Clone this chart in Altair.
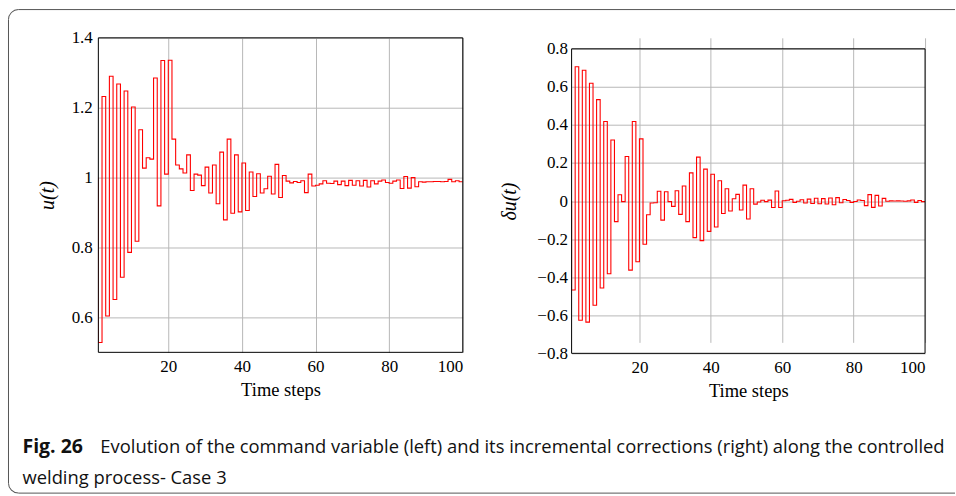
import math
import altair as alt
import pandas as pd

# ---------------- data ----------------
time_steps = list(range(1, 101))

# command variable u(t): initial value followed by the value held on each step 1..99
u_values = [
    1.000,
    0.528, 1.232, 0.604, 1.290, 0.651, 1.268, 0.715, 1.248, 0.786, 1.202,
    0.818, 1.137, 1.027, 1.057, 1.053, 1.285, 0.919, 1.335, 1.010, 1.336,
    1.110, 1.036, 1.025, 1.013, 1.065, 0.963, 1.010, 1.007, 0.977, 1.030,
    0.956, 1.036, 0.925, 1.073, 0.879, 1.110, 0.898, 1.065, 0.902, 1.042,
    0.906, 1.016, 0.946, 1.011, 0.956, 0.968, 1.004, 0.953, 1.038, 0.943,
    1.006, 0.990, 0.985, 0.989, 0.986, 0.991, 0.957, 1.010, 0.976, 0.978,
    0.982, 0.991, 0.984, 0.983, 0.990, 0.980, 0.990, 0.977, 0.992, 0.978,
    0.991, 0.976, 0.992, 0.973, 0.991, 0.982, 0.990, 0.993, 0.986, 0.984,
    0.990, 0.993, 0.969, 1.003, 0.970, 1.000, 0.974, 0.988, 0.987, 0.988,
    0.988, 0.989, 0.989, 0.988, 0.989, 0.995, 0.988, 0.991, 0.988,
]

# incremental corrections delta u(t)
du_values = [
    0.000,
    -0.467, 0.706, -0.626, 0.687, -0.636, 0.619, -0.547, 0.533, -0.457, 0.418,
    -0.382, 0.321, -0.108, 0.033, -0.003, 0.234, -0.363, 0.418, -0.319, 0.327,
    -0.227, -0.072, -0.010, -0.009, 0.052, -0.100, 0.049, -0.003, -0.028, 0.054,
    -0.070, 0.079, -0.108, 0.148, -0.192, 0.231, -0.208, 0.168, -0.159, 0.141,
    -0.136, 0.107, -0.065, 0.065, -0.052, 0.012, 0.035, -0.047, 0.084, -0.094,
    0.065, -0.016, -0.005, 0.004, -0.003, 0.005, -0.034, 0.053, -0.034, 0.002,
    0.004, 0.009, -0.007, -0.001, 0.007, -0.010, 0.010, -0.013, 0.015, -0.014,
    0.013, -0.015, 0.016, -0.019, 0.018, -0.009, 0.008, 0.003, -0.007, -0.002,
    0.006, 0.003, -0.024, 0.034, -0.033, 0.030, -0.026, 0.014, -0.001, 0.001,
    0.000, 0.001, 0.000, -0.001, 0.001, 0.006, -0.007, 0.003, -0.003,
]

x_ticks = [20, 40, 60, 80, 100]
u_ticks = [0.6, 0.8, 1.0, 1.2, 1.4]
du_ticks = [-0.8, -0.6, -0.4, -0.2, 0.0, 0.2, 0.4, 0.6, 0.8]
x_domain = [1, 100]
u_domain = [0.5, 1.4]
du_domain = [-0.8, 0.8]

x_title = "Time steps"
u_title = "u(t)"
du_title = "δu(t)"
caption_label = "Fig. 26"
caption_line1 = ("Evolution of the command variable (left) and its incremental "
                 "corrections (right) along the controlled")
caption_line2 = "welding process- Case 3"

df_u = pd.DataFrame({"t": time_steps, "u": u_values})
df_du = pd.DataFrame({"t": time_steps, "du": du_values})

# ---------------- style ----------------
SERIF = "Liberation Serif"
SANS = "Open Sans"
RED = "#ff0000"
GRID = "#b8b8b8"
FRAME = "#555555"

W1, H1 = 365, 315
W2, H2, TOP2 = 354, 316, 11

one = alt.Data(values=[{}])


def x_axis():
    return alt.Axis(values=x_ticks, title=x_title, grid=True, labelOverlap=False,
                    labelPadding=6, titleFontSize=18.5, titlePadding=6)


def y_axis(values, title, title_pad, label_pad):
    return alt.Axis(values=values, title=title, format=".1~f", grid=True,
                    labelOverlap=False, labelPadding=label_pad,
                    titleFontSize=20, titleFontStyle="italic", titlePadding=title_pad)


xs = alt.Scale(domain=x_domain, nice=False, zero=False)

# ---------------- left panel ----------------
left_line = alt.Chart(df_u).mark_line(
    interpolate="step-before", color=RED, strokeWidth=1.1, clip=True
).encode(
    x=alt.X("t:Q", scale=xs, axis=x_axis()),
    y=alt.Y("u:Q", scale=alt.Scale(domain=u_domain, nice=False, zero=False),
            axis=y_axis(u_ticks, u_title, 14, 6)),
)
left_box = alt.Chart(one).mark_rect(fillOpacity=0, stroke="black", strokeWidth=1).encode(
    x=alt.value(0), x2=alt.value(W1), y=alt.value(0), y2=alt.value(H1),
)

# rounded journal frame (left side, top and bottom; right side is off the page)
FL, FT, FB, R = -90, -28.3, 456.0, 10
frame_top = alt.Chart(one).mark_rule(color=FRAME, strokeWidth=1).encode(
    x=alt.value(FL + R), x2=alt.value(858), y=alt.value(FT))
frame_bottom = alt.Chart(one).mark_rule(color=FRAME, strokeWidth=1).encode(
    x=alt.value(FL + R), x2=alt.value(858), y=alt.value(FB))
frame_left = alt.Chart(one).mark_rule(color=FRAME, strokeWidth=1).encode(
    x=alt.value(FL), y=alt.value(FT + R), y2=alt.value(FB - R))
corner_tl = alt.Chart(one).mark_arc(
    radius=R + 0.5, radius2=R - 0.5, theta=1.5 * math.pi, theta2=2 * math.pi, color=FRAME
).encode(x=alt.value(FL + R), y=alt.value(FT + R))
corner_bl = alt.Chart(one).mark_arc(
    radius=R + 0.5, radius2=R - 0.5, theta=math.pi, theta2=1.5 * math.pi, color=FRAME
).encode(x=alt.value(FL + R), y=alt.value(FB - R))

cap_a = alt.Chart(one).mark_text(
    align="left", baseline="middle", font=SANS, fontSize=19.5, fontWeight="bold", color="#111111"
).encode(x=alt.value(-76), y=alt.value(410), text=alt.value(caption_label))
cap_b = alt.Chart(one).mark_text(
    align="left", baseline="middle", font=SANS, fontSize=18.4, color="#111111"
).encode(x=alt.value(2), y=alt.value(410), text=alt.value(caption_line1))
cap_c = alt.Chart(one).mark_text(
    align="left", baseline="middle", font=SANS, fontSize=18.4, color="#111111"
).encode(x=alt.value(-76), y=alt.value(441), text=alt.value(caption_line2))

left = alt.layer(
    left_line, left_box, frame_top, frame_bottom, frame_left, corner_tl, corner_bl,
    cap_a, cap_b, cap_c,
).properties(width=W1, height=H1)

# ---------------- right panel ----------------
dys = alt.Scale(domain=du_domain, range=[H2, TOP2], nice=False, zero=False)
right_line = alt.Chart(df_du).mark_line(
    interpolate="step-before", color=RED, strokeWidth=1.1, clip=True
).encode(
    x=alt.X("t:Q", scale=xs, axis=x_axis()),
    y=alt.Y("du:Q", scale=dys, axis=y_axis(du_ticks, du_title, 17, 4)),
)
right_box = alt.Chart(one).mark_rect(fillOpacity=0, stroke="black", strokeWidth=1).encode(
    x=alt.value(0), x2=alt.value(W2), y=alt.value(TOP2), y2=alt.value(H2),
)
right = alt.layer(right_line, right_box).properties(width=W2, height=H2)

chart = alt.hconcat(left, right, spacing=109, bounds="flush").properties(
    padding={"left": 7.5, "top": 8.5, "right": 0, "bottom": 0},
    background="white",
).configure_view(stroke=None).configure_axis(
    ticks=False, domain=False, gridColor=GRID, gridWidth=1,
    labelFont=SERIF, labelFontSize=17, labelColor="black",
    titleFont=SERIF, titleFontWeight="normal", titleColor="black",
)

chart.save("out.html", embed_options={"renderer": "svg", "actions": False})
